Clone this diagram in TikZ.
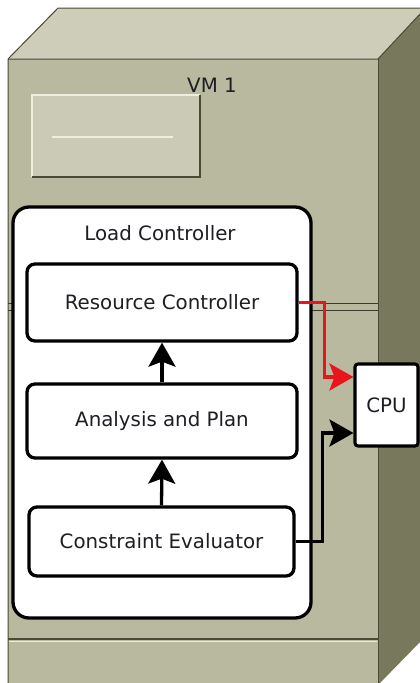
\documentclass[tikz,border=0pt]{standalone}
\usepackage{fontspec}
\setmainfont{DejaVu Sans}
\usetikzlibrary{arrows.meta}

\definecolor{cabFront}{HTML}{B9B9A0}
\definecolor{cabTop}{HTML}{CDCDB9}
\definecolor{cabSide}{HTML}{78785C}
\definecolor{cabEdge}{HTML}{4A4A36}
\definecolor{cabLight}{HTML}{EEEEDC}
\definecolor{panelFill}{HTML}{CACAB6}
\definecolor{flowRed}{HTML}{E8161C}
\definecolor{ink}{HTML}{1E1E24}

\tikzset{
  lbl/.style={font=\fontsize{19.8}{24}\selectfont, text=ink},
  stage/.style={draw=black, line width=3.3pt, fill=white, rounded corners=8pt,
    inner sep=0pt, lbl},
  container/.style={draw=black, line width=3.3pt, fill=white, rounded corners=16pt,
    inner sep=0pt},
  flow/.style={line width=3.3pt,
    -{Stealth[length=24pt, width=27pt, inset=5pt]}},
  shelf/.style={draw=cabEdge!80!black, line width=1pt},
}

\begin{document}
\begin{tikzpicture}[x=1pt, y=-1pt]
  \useasboundingbox (0,0) rectangle (420,683);
  \fill[white] (0,0) rectangle (420,683);

  % cabinet: top, side and front faces
  \fill[cabTop] (8,59) -- (58,8) -- (420,8) -- (420,14) -- (378,59) -- cycle;
  \fill[cabSide] (378,59) -- (420,14) -- (420,642) -- (380,683) -- (378,683) -- cycle;
  \fill[cabFront] (8,59) rectangle (378,683);
  \draw[cabEdge, line width=1pt] (8,683) -- (8,59) -- (58,8) -- (420,8);
  \draw[cabEdge, line width=1pt] (8,59) -- (378,59) -- (420,14);
  \draw[cabEdge, line width=1pt] (378,59) -- (378,683);

  % base strip of the cabinet
  \draw[cabEdge, line width=1.2pt] (8,639) -- (378,639);
  \draw[cabLight, line width=1.2pt] (9,641.5) -- (377,641.5);

  % shelf rails behind the controller
  \draw[shelf] (8,303.5) -- (378,303.5);
  \draw[shelf] (8,310) -- (378,310);

  % front panel plate
  \fill[panelFill] (32,95) rectangle (200,177);
  \draw[cabLight, line width=1.4pt] (32,177) -- (32,95) -- (200,95);
  \draw[cabEdge, line width=1.4pt] (200,95) -- (200,177) -- (32,177);
  \draw[cabLight, line width=1.4pt] (52,137) -- (173,137);

  \node[lbl] (vm) at (212,85) {VM 1};

  % load controller and its stages
  \node[container, minimum width=298pt, minimum height=411pt] (lc) at (162,412.5) {};
  \node[lbl] (lcl) at (160,233) {Load Controller};

  \node[stage, minimum width=270pt, minimum height=77pt] (rc) at (162,302.5) {Resource Controller};
  \node[stage, minimum width=270pt, minimum height=74pt] (ap) at (162,421) {Analysis and Plan};
  \node[stage, minimum width=265pt, minimum height=69pt] (ce) at (161.5,541.5) {Constraint Evaluator};

  \node[draw=black, line width=3.1pt, fill=white, rounded corners=3pt, inner sep=0pt,
        minimum width=63pt, minimum height=82pt, lbl] (cpu) at (386.5,405) {CPU};

  % connectors
  \draw[flow] (ce.north) -- (ap.south);
  \draw[flow] (ap.north) -- (rc.south);
  \draw[flow, flowRed] (rc.east) -- ++(25.5,0) |- ([yshift=28pt]cpu.west);
  \draw[flow] (ce.east) -- ++(27,0) |- ([yshift=-28pt]cpu.west);
\end{tikzpicture}
\end{document}
